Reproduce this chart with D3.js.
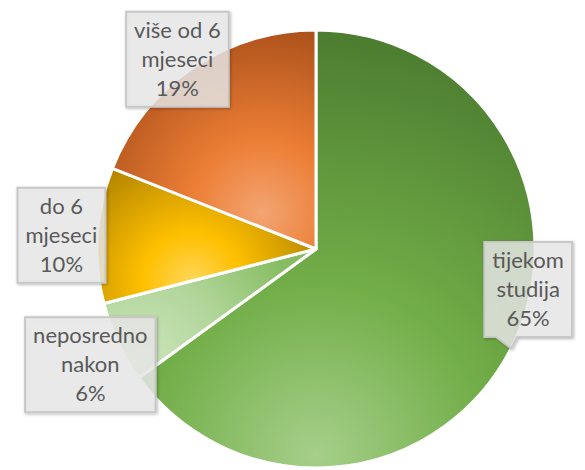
<!DOCTYPE html>
<html>
<head>
<meta charset="utf-8">
<script src="https://cdn.jsdelivr.net/npm/d3@7"></script>
<style>
  body { margin: 0; background: #fff; }
  svg { display: block; }
</style>
</head>
<body>
<svg></svg>
<script>
// data, clockwise from 12 o'clock
var categories = ["tijekom studija", "neposredno nakon", "do 6 mjeseci", "više od 6 mjeseci"];
var labelLines = [["tijekom", "studija"], ["neposredno", "nakon"], ["do 6", "mjeseci"], ["više od 6", "mjeseci"]];
var values = [65, 6, 10, 19];

var svgWidth = 585, svgHeight = 470;
var cx = 316, cy = 249, radius = 219;

// label box offsets from the outer edge point of each slice
var labelOffset = [[17, -59], [-27.5, 22.5], [-36, 0], [-15.5, -8.5]];

// radial gradients: centre (relative to pie centre), radius, stops
var gradients = [
  { c: [0, 206], r: 430, stops: [[0, "#a6cf8a"], [0.4, "#72ae48"], [1, "#4b7b2f"]] },
  { c: [-175, 110], r: 170, stops: [[0, "#cde5bd"], [0.5, "#b0d598"], [1, "#86bd62"]] },
  { c: [-124, 33], r: 140, stops: [[0, "#ffd65a"], [0.35, "#ffc000"], [1, "#b08300"]] },
  { c: [-54, -37], r: 205, stops: [[0, "#f3a472"], [0.35, "#ec7e35"], [1, "#a24a17"]] }
];

var svg = d3.select("svg")
    .attr("width", svgWidth)
    .attr("height", svgHeight);

var defs = svg.append("defs");

gradients.forEach(function(g, i) {
  var grad = defs.append("radialGradient")
      .attr("id", "grad" + i)
      .attr("gradientUnits", "userSpaceOnUse")
      .attr("cx", g.c[0]).attr("cy", g.c[1]).attr("r", g.r);
  g.stops.forEach(function(s) {
    grad.append("stop").attr("offset", s[0]).attr("stop-color", s[1]);
  });
});

var shadow = defs.append("filter").attr("id", "shadow")
    .attr("x", "-20%").attr("y", "-20%").attr("width", "140%").attr("height", "140%");
shadow.append("feDropShadow")
    .attr("dx", 1).attr("dy", 1).attr("stdDeviation", 1.8)
    .attr("flood-color", "#000").attr("flood-opacity", 0.3);

var pie = d3.pie().sort(null).value(function(d) { return d; });
var arcs = pie(values);

var arc = d3.arc().innerRadius(0).outerRadius(radius);
var edgeArc = d3.arc().innerRadius(radius).outerRadius(radius);

var g = svg.append("g").attr("transform", "translate(" + cx + "," + cy + ")");

g.selectAll("path.slice")
    .data(arcs)
    .enter()
    .append("path")
    .attr("class", "slice")
    .attr("d", arc)
    .attr("fill", function(d, i) { return "url(#grad" + i + ")"; })
    .attr("stroke", "#fff")
    .attr("stroke-width", 3)
    .attr("stroke-linejoin", "round");

// labels
var fontSize = 22, lineH = 29, padX = 8, padY = 4;

var labels = g.selectAll("g.label")
    .data(arcs)
    .enter()
    .append("g")
    .attr("class", "label");

labels.each(function(d, i) {
  var sel = d3.select(this);
  var edge = edgeArc.centroid(d);
  var bx = edge[0] + labelOffset[i][0], by = edge[1] + labelOffset[i][1];
  var lines = labelLines[i].concat([values[i] + "%"]);

  var box = sel.append("path");
  var text = sel.append("text")
      .attr("text-anchor", "middle")
      .style("font-family", "Lato, 'Open Sans', sans-serif")
      .style("font-size", fontSize + "px")
      .attr("fill", "#595959");

  var h = lines.length * lineH + 2 * padY;
  lines.forEach(function(l, j) {
    text.append("tspan")
        .attr("x", bx)
        .attr("y", by - h / 2 + padY + lineH * (j + 0.5))
        .attr("dy", "0.35em")
        .text(l);
  });
  var w = text.node().getBBox().width + 2 * padX;
  var x0 = bx - w / 2, x1 = bx + w / 2, y0 = by - h / 2, y1 = by + h / 2;

  var p = d3.path();
  p.moveTo(x0, y0);
  p.lineTo(x1, y0);
  p.lineTo(x1, y1);
  if (i === 0) {
    // callout pointer towards the slice edge
    p.lineTo(edge[0] + 6, y1);
    p.lineTo(edge[0], edge[1]);
    p.lineTo(edge[0] - 15, y1);
  }
  p.lineTo(x0, y1);
  p.closePath();

  box.attr("d", p.toString())
      .attr("fill", "#ebebeb")
      .attr("fill-opacity", 0.8)
      .attr("stroke", "#c8c8c8")
      .attr("stroke-width", 2)
      .attr("filter", "url(#shadow)");
});
</script>
</body>
</html>
